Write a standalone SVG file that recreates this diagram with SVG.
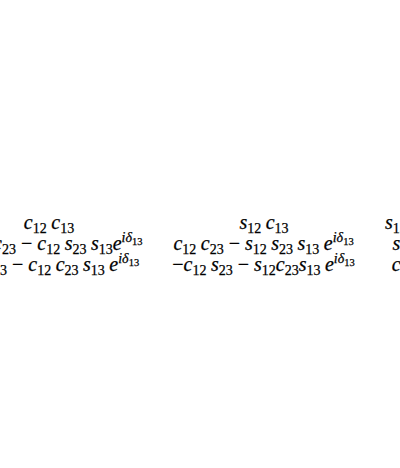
<svg xmlns="http://www.w3.org/2000/svg" width="400" height="468" viewBox="0 0 400 468">
<style>
text{font-size:20px;fill:#000;stroke:#000;stroke-width:0.25;text-anchor:middle}
.i{font-style:italic}
.s{font-size:14px;font-style:normal}
.u{font-size:14px;font-style:italic}
.t{font-size:10.5px;font-style:normal}
</style>
<rect width="400" height="468" fill="#fff"/>
<g font-family="Liberation Serif, serif">
<g id="row1">
<text x="49" y="229"><tspan class="i">c</tspan><tspan class="s" dy="4">12</tspan><tspan class="i" dx="4.5" dy="-4">c</tspan><tspan class="s" dy="4">13</tspan></text>
<text x="264" y="229"><tspan class="i">s</tspan><tspan class="s" dy="4">12</tspan><tspan class="i" dx="4.5" dy="-4">c</tspan><tspan class="s" dy="4">13</tspan></text>
<text x="417" y="229"><tspan class="i">s</tspan><tspan class="s" dy="4">13</tspan><tspan class="i" dx="4.5" dy="-4">e</tspan><tspan class="s" dy="-8">−</tspan><tspan class="u">iδ</tspan><tspan class="t" dy="3">13</tspan></text>
</g>
<g id="row2">
<text x="49" y="250"><tspan>−</tspan><tspan class="i">s</tspan><tspan class="s" dy="4">12</tspan><tspan class="i" dx="4.5" dy="-4">c</tspan><tspan class="s" dy="4">23</tspan><tspan dx="5" dy="-4">−</tspan><tspan class="i" dx="5">c</tspan><tspan class="s" dy="4">12</tspan><tspan class="i" dx="4.5" dy="-4">s</tspan><tspan class="s" dy="4">23</tspan><tspan class="i" dx="4.5" dy="-4">s</tspan><tspan class="s" dy="4">13</tspan><tspan class="i" dy="-4">e</tspan><tspan class="u" dy="-8.5">iδ</tspan><tspan class="t" dy="3">13</tspan></text>
<text x="263.5" y="250"><tspan class="i">c</tspan><tspan class="s" dy="4">12</tspan><tspan class="i" dx="4.5" dy="-4">c</tspan><tspan class="s" dy="4">23</tspan><tspan dx="5" dy="-4">−</tspan><tspan class="i" dx="5">s</tspan><tspan class="s" dy="4">12</tspan><tspan class="i" dx="4.5" dy="-4">s</tspan><tspan class="s" dy="4">23</tspan><tspan class="i" dx="4.5" dy="-4">s</tspan><tspan class="s" dy="4">13</tspan><tspan class="i" dx="4.5" dy="-4">e</tspan><tspan class="u" dy="-8.5">iδ</tspan><tspan class="t" dy="3">13</tspan></text>
<text x="417" y="250"><tspan class="i">s</tspan><tspan class="s" dy="4">23</tspan><tspan class="i" dx="4.5" dy="-4">c</tspan><tspan class="s" dy="4">13</tspan></text>
</g>
<g id="row3">
<text x="49" y="271"><tspan class="i">s</tspan><tspan class="s" dy="4">12</tspan><tspan class="i" dx="4.5" dy="-4">s</tspan><tspan class="s" dy="4">23</tspan><tspan dx="5" dy="-4">−</tspan><tspan class="i" dx="5">c</tspan><tspan class="s" dy="4">12</tspan><tspan class="i" dx="4.5" dy="-4">c</tspan><tspan class="s" dy="4">23</tspan><tspan class="i" dx="4.5" dy="-4">s</tspan><tspan class="s" dy="4">13</tspan><tspan class="i" dx="4.5" dy="-4">e</tspan><tspan class="u" dy="-8.5">iδ</tspan><tspan class="t" dy="3">13</tspan></text>
<text x="263.5" y="271"><tspan>−</tspan><tspan class="i">c</tspan><tspan class="s" dy="4">12</tspan><tspan class="i" dx="4.5" dy="-4">s</tspan><tspan class="s" dy="4">23</tspan><tspan dx="5" dy="-4">−</tspan><tspan class="i" dx="5">s</tspan><tspan class="s" dy="4">12</tspan><tspan class="i" dy="-4">c</tspan><tspan class="s" dy="4">23</tspan><tspan class="i" dy="-4">s</tspan><tspan class="s" dy="4">13</tspan><tspan class="i" dx="4.5" dy="-4">e</tspan><tspan class="u" dy="-8.5">iδ</tspan><tspan class="t" dy="3">13</tspan></text>
<text x="417" y="271"><tspan class="i">c</tspan><tspan class="s" dy="4">23</tspan><tspan class="i" dx="4.5" dy="-4">c</tspan><tspan class="s" dy="4">13</tspan></text>
</g>
</g>
</svg>
